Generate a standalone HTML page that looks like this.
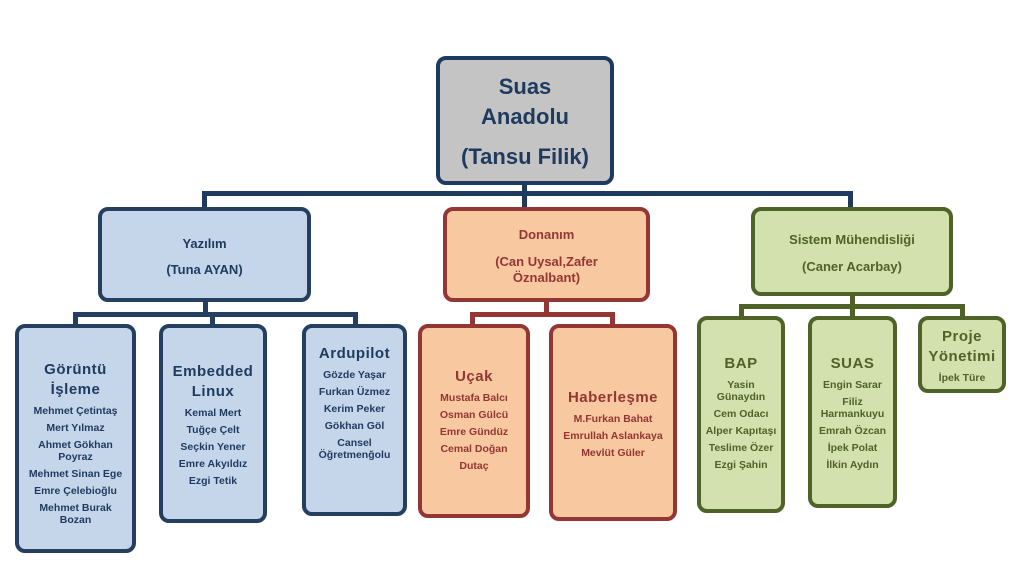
<!DOCTYPE html>
<html><head><meta charset="utf-8"><style>
body{margin:0;width:1025px;height:584px;background:#fff;position:relative;overflow:hidden;font-family:"Liberation Sans","DejaVu Sans",sans-serif;font-weight:bold}
.b{position:absolute;box-sizing:border-box;border-width:4px;border-style:solid;border-radius:10px;text-align:center}
.l{position:absolute}
.bl{background:#c5d6ea;border-color:#243f60;color:#1f3a5f}
.rd{background:#f8c8a0;border-color:#943634;color:#943634}
.gr{background:#d2e1ae;border-color:#4f6228;color:#4f6228}
.t{font-size:15px;line-height:20px;letter-spacing:0.5px}
.n{font-size:10.5px;line-height:12px;margin-top:5px}
</style></head><body>
<!-- connectors -->
<div class="l" style="left:522px;top:184px;width:5px;height:12px;background:#1f3a5f"></div>
<div class="l" style="left:202px;top:191px;width:651px;height:5px;background:#1f3a5f"></div>
<div class="l" style="left:202px;top:191px;width:5px;height:18px;background:#1f3a5f"></div>
<div class="l" style="left:522px;top:191px;width:5px;height:18px;background:#1f3a5f"></div>
<div class="l" style="left:848px;top:191px;width:5px;height:18px;background:#1f3a5f"></div>

<div class="l" style="left:203px;top:300px;width:5px;height:16px;background:#243f60"></div>
<div class="l" style="left:73px;top:312px;width:285px;height:5px;background:#243f60"></div>
<div class="l" style="left:73px;top:312px;width:5px;height:14px;background:#243f60"></div>
<div class="l" style="left:210px;top:312px;width:5px;height:14px;background:#243f60"></div>
<div class="l" style="left:353px;top:312px;width:5px;height:14px;background:#243f60"></div>

<div class="l" style="left:544px;top:300px;width:5px;height:16px;background:#943634"></div>
<div class="l" style="left:470px;top:312px;width:145px;height:5px;background:#943634"></div>
<div class="l" style="left:470px;top:312px;width:5px;height:14px;background:#943634"></div>
<div class="l" style="left:610px;top:312px;width:5px;height:14px;background:#943634"></div>

<div class="l" style="left:850px;top:294px;width:5px;height:12px;background:#4f6228"></div>
<div class="l" style="left:739px;top:304px;width:226px;height:5px;background:#4f6228"></div>
<div class="l" style="left:739px;top:304px;width:5px;height:14px;background:#4f6228"></div>
<div class="l" style="left:850px;top:304px;width:5px;height:14px;background:#4f6228"></div>
<div class="l" style="left:960px;top:304px;width:5px;height:14px;background:#4f6228"></div>

<!-- root -->
<div class="b" style="left:436px;top:56px;width:178px;height:129px;background:#c4c4c4;border-color:#1f3a5f;color:#1f3a5f;font-size:22px;line-height:30px;padding-top:12px">Suas<br>Anadolu<div style="margin-top:10px">(Tansu Filik)</div></div>

<div class="b bl" style="left:98px;top:207px;width:213px;height:95px;font-size:13px;line-height:16px;padding-top:25px">Yazılım<div style="margin-top:10px">(Tuna AYAN)</div></div>
<div class="b rd" style="left:443px;top:207px;width:207px;height:95px;font-size:13px;line-height:16px;padding-top:16px">Donanım<div style="margin-top:11px">(Can Uysal,Zafer<br>Öznalbant)</div></div>
<div class="b gr" style="left:751px;top:207px;width:202px;height:89px;font-size:13px;line-height:16px;padding-top:21px">Sistem Mühendisliği<div style="margin-top:11px">(Caner Acarbay)</div></div>

<div class="b bl" style="left:15px;top:324px;width:121px;height:229px;padding-top:32px"><div class="t">Görüntü<br>İşleme</div><div class="n">Mehmet Çetintaş</div><div class="n">Mert Yılmaz</div><div class="n">Ahmet Gökhan<br>Poyraz</div><div class="n">Mehmet Sinan Ege</div><div class="n">Emre Çelebioğlu</div><div class="n">Mehmet Burak<br>Bozan</div></div>
<div class="b bl" style="left:159px;top:324px;width:108px;height:199px;padding-top:34px"><div class="t">Embedded<br>Linux</div><div class="n">Kemal Mert</div><div class="n">Tuğçe Çelt</div><div class="n">Seçkin Yener</div><div class="n">Emre Akyıldız</div><div class="n">Ezgi Tetik</div></div>
<div class="b bl" style="left:302px;top:324px;width:105px;height:192px;padding-top:16px"><div class="t">Ardupilot</div><div class="n">Gözde Yaşar</div><div class="n">Furkan Üzmez</div><div class="n">Kerim Peker</div><div class="n">Gökhan Göl</div><div class="n">Cansel<br>Öğretmenğolu</div></div>

<div class="b rd" style="left:418px;top:324px;width:112px;height:194px;padding-top:39px"><div class="t">Uçak</div><div class="n">Mustafa Balcı</div><div class="n">Osman Gülcü</div><div class="n">Emre Gündüz</div><div class="n">Cemal Doğan</div><div class="n">Dutaç</div></div>
<div class="b rd" style="left:549px;top:324px;width:128px;height:197px;padding-top:60px"><div class="t">Haberleşme</div><div class="n">M.Furkan Bahat</div><div class="n">Emrullah Aslankaya</div><div class="n">Mevlüt Güler</div></div>

<div class="b gr" style="left:697px;top:316px;width:88px;height:197px;padding-top:34px"><div class="t">BAP</div><div class="n">Yasin<br>Günaydın</div><div class="n">Cem Odacı</div><div class="n">Alper Kapıtaşı</div><div class="n">Teslime Özer</div><div class="n">Ezgi Şahin</div></div>
<div class="b gr" style="left:808px;top:316px;width:89px;height:192px;padding-top:34px"><div class="t">SUAS</div><div class="n">Engin Sarar</div><div class="n">Filiz<br>Harmankuyu</div><div class="n">Emrah Özcan</div><div class="n">İpek Polat</div><div class="n">İlkin Aydın</div></div>
<div class="b gr" style="left:918px;top:316px;width:88px;height:77px;padding-top:7px"><div class="t">Proje<br>Yönetimi</div><div class="n">İpek Türe</div></div>
</body></html>
